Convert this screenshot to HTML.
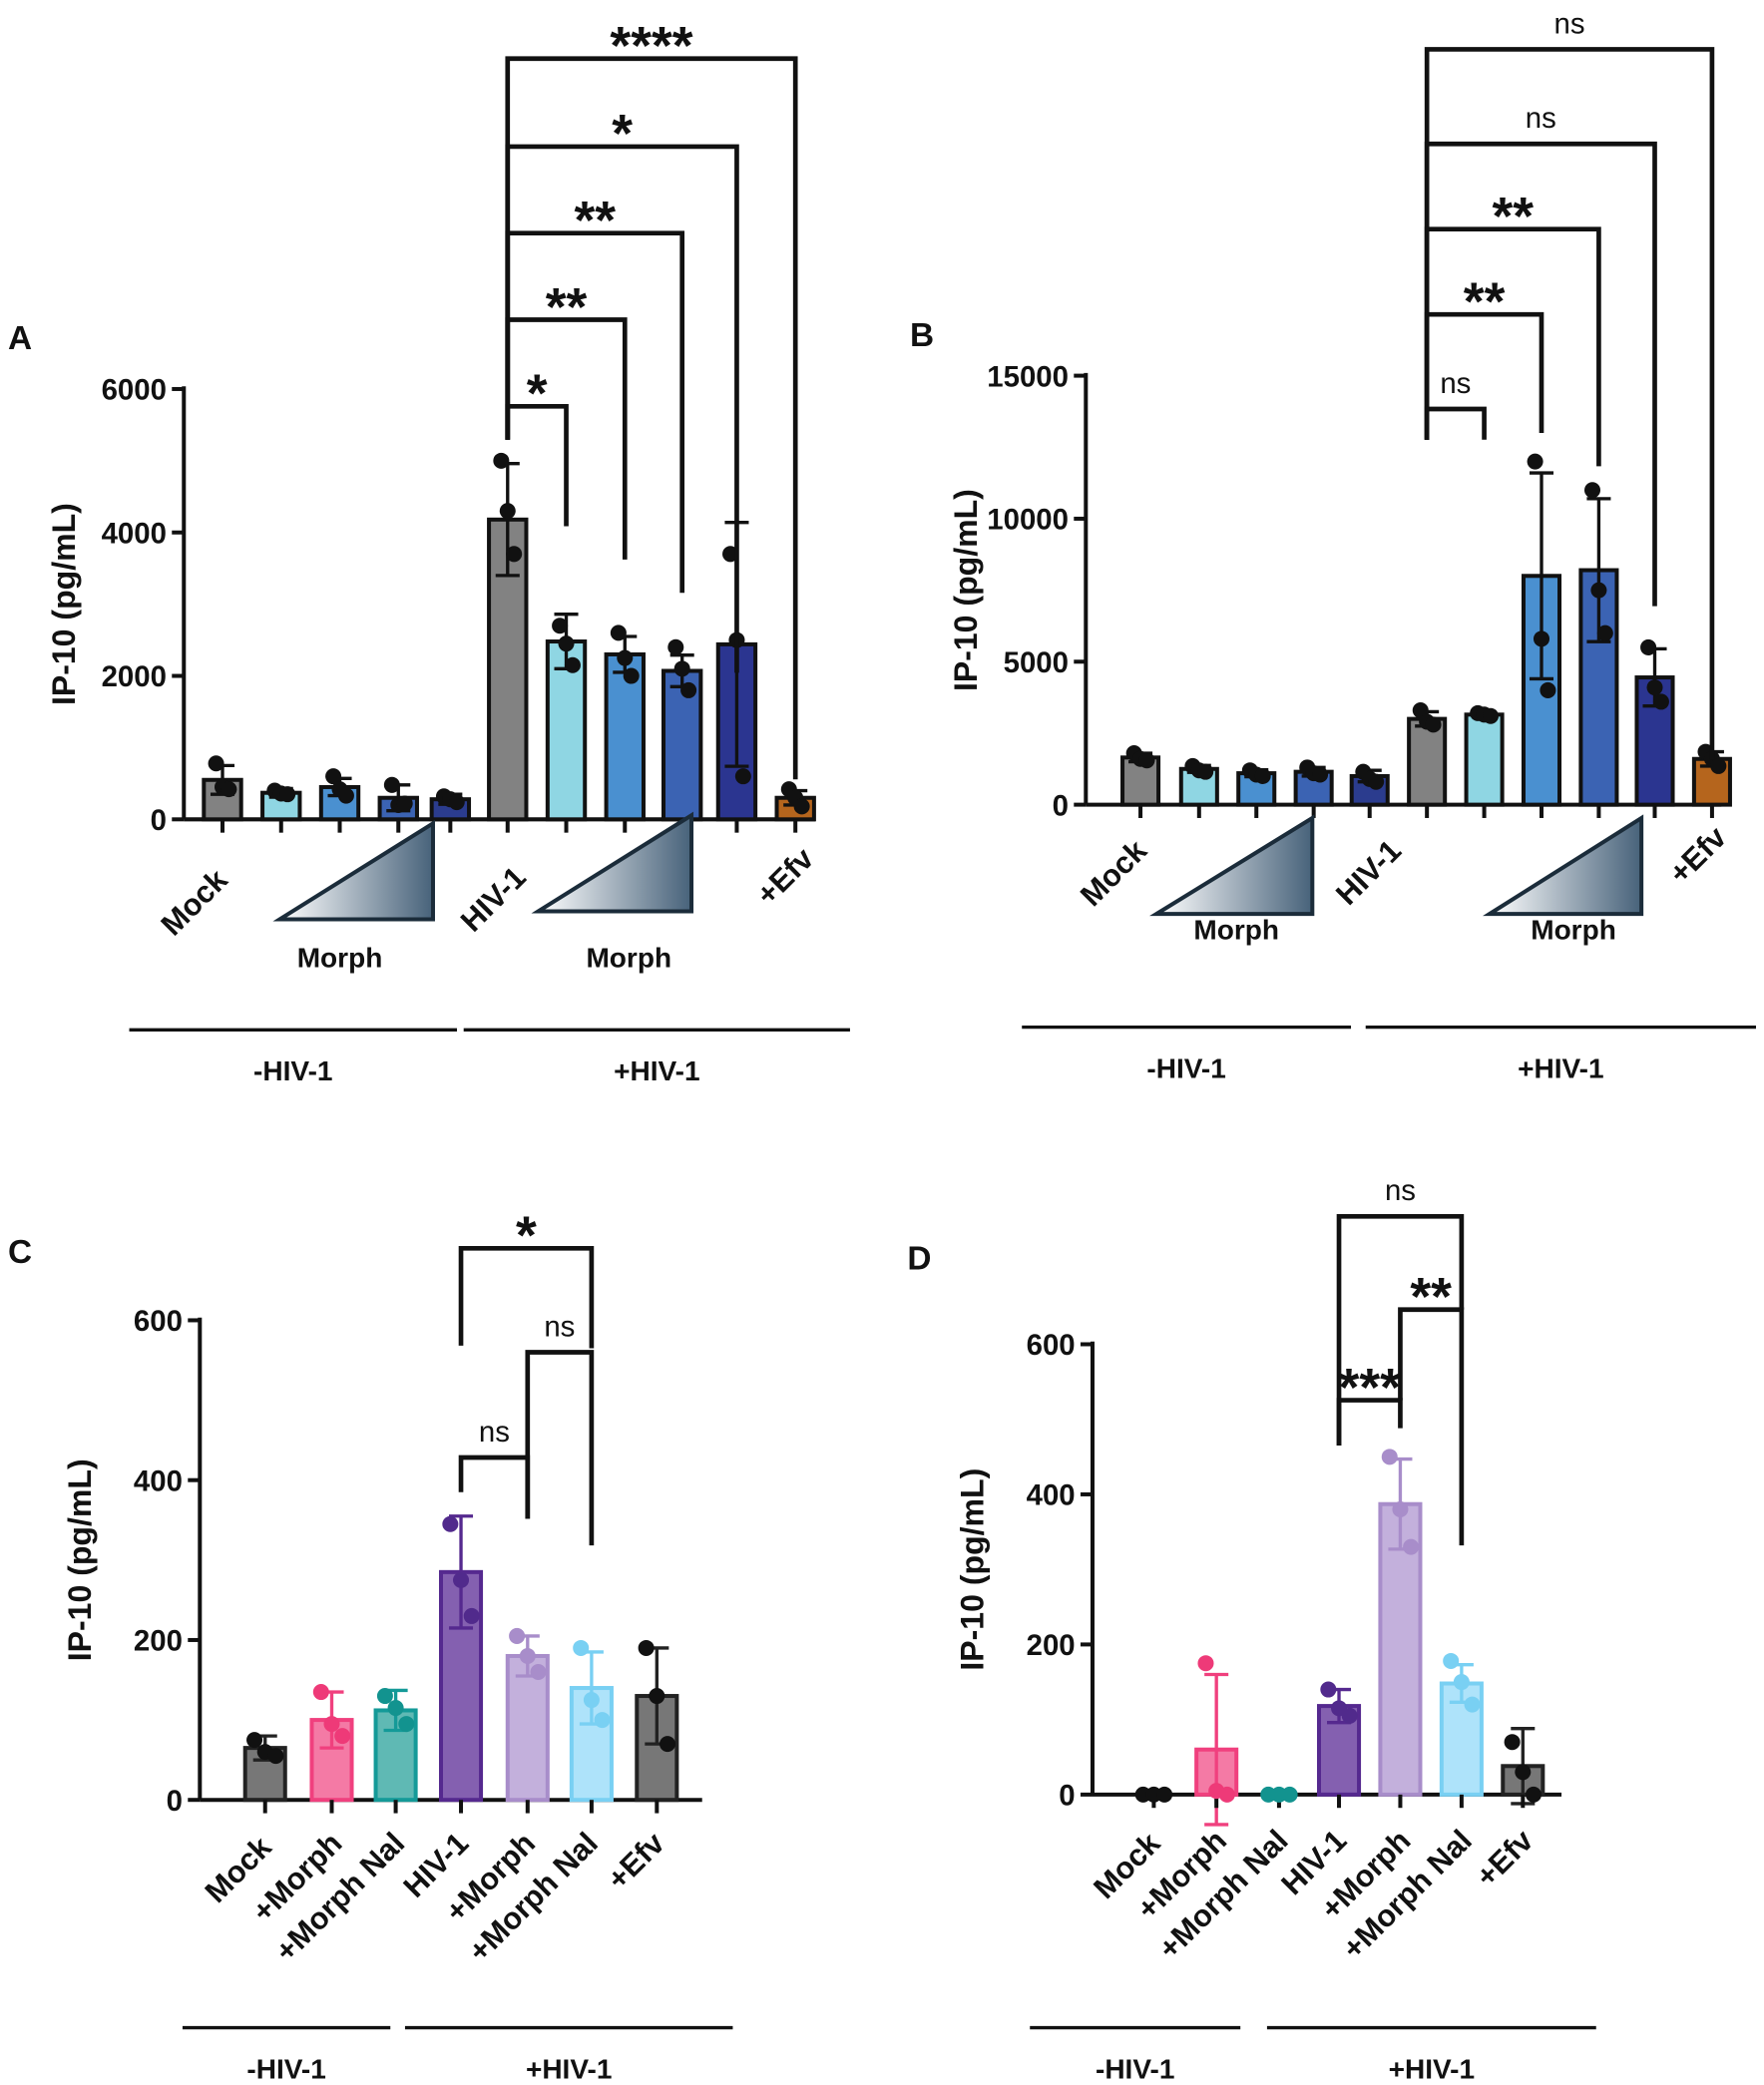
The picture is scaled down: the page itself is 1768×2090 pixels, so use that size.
<!DOCTYPE html>
<html><head><meta charset="utf-8"><style>
html,body{margin:0;padding:0;background:#fff}
svg{display:block}
text{font-family:"Liberation Sans",Arial,sans-serif}
</style></head><body>
<svg id="s" width="1768" height="2090" viewBox="0 0 1324 1565" preserveAspectRatio="none" xmlns="http://www.w3.org/2000/svg">
<defs><linearGradient id="wg" x1="0" y1="0" x2="1" y2="0"><stop offset="0" stop-color="#ffffff"/><stop offset="1" stop-color="#47627a"/></linearGradient></defs>
</svg>
<script>
// ---- Panel A data ----
const catsA=["Mock","m1","m2","m3","m4","HIV-1","h1","h2","h3","h4","+Efv"];
const valsA=[550,370,450,300,280,4180,2480,2300,2070,2440,300];
const errA=[200,60,120,180,70,780,380,250,220,1700,100];
const ptsA=[[780,450,420],[400,360,350],[600,420,330],[480,200,220],[320,280,240],[5000,4300,3700],[2700,2450,2150],[2600,2250,2000],[2400,2100,1800],[3700,2500,600],[420,300,180]];
const ticksA=[0,2000,4000,6000];
// ---- Panel B data ----
const catsB=["Mock","m1","m2","m3","m4","HIV-1","h1","h2","h3","h4","+Efv"];
const valsB=[1650,1250,1100,1150,1000,3000,3150,8000,8200,4450,1600];
const errB=[150,120,120,150,200,250,100,3600,2500,1000,250];
const ptsB=[[1800,1600,1550],[1350,1200,1150],[1200,1050,1000],[1300,1100,1050],[1150,900,800],[3300,2900,2800],[3200,3150,3100],[12000,5800,4000],[11000,7500,6000],[5500,4100,3600],[1850,1600,1350]];
const ticksB=[0,5000,10000,15000];
// ---- Panel C data ----
const catsC=["Mock","+Morph","+Morph Nal","HIV-1","+Morph","+Morph Nal","+Efv"];
const valsC=[65,100,112,285,180,140,130];
const errC=[15,35,25,70,25,45,60];
const ptsC=[[75,60,55],[135,95,80],[130,115,95],[345,275,230],[205,180,160],[190,125,100],[190,130,70]];
const ticksC=[0,200,400,600];
// ---- Panel D data ----
const catsD=["Mock","+Morph","+Morph Nal","HIV-1","+Morph","+Morph Nal","+Efv"];
const valsD=[0,60,0,118,387,148,38];
const errD=[0,100,0,22,60,25,50];
const ptsD=[[0,0,0],[175,5,0],[0,0,0],[140,115,105],[450,380,330],[178,150,120],[70,30,0]];
const ticksD=[0,200,400,600];

const svg=document.getElementById('s');
const NS="http://www.w3.org/2000/svg";
function mk(tag,at,parent){const e=document.createElementNS(NS,tag);for(const k in at)e.setAttribute(k,at[k]);(parent||svg).appendChild(e);return e;}
function tx(str,x,y,size,weight,anchor,rot,parent){const e=mk('text',{x:x,y:y,'font-size':size,'font-weight':weight||'bold','text-anchor':anchor||'middle',fill:'#111'},parent);if(rot!==undefined)e.setAttribute('transform','rotate('+rot+' '+x+' '+y+')');e.textContent=str;return e;}

function panel(o){
  const g=mk('g',{});
  
  
  const y=v=>o.y0-(v/o.ymax)*(o.y0-o.y1);
  const ax=mk('line',{x1:o.ax,y1:o.y1-2,x2:o.ax,y2:o.y0,stroke:'#111','stroke-width':3},g);
  
  const xa=mk('line',{x1:o.ax,y1:o.y0,x2:o.xend,y2:o.y0,stroke:'#111','stroke-width':3},g);
  
  o.ticks.forEach(t=>{
    const l=mk('line',{x1:o.ax-9,y1:y(t),x2:o.ax,y2:y(t),stroke:'#111','stroke-width':3},g);
    
    const tl=tx(String(t),o.ax-13,y(t)+8,22,'bold','end',undefined,g);
    
  });
  const yt=tx('IP-10  (pg/mL)',o.ax-82,(o.y0+o.y1)/2,24,'bold','middle',-90,g);
  
  const pl=tx(o.letter,o.lx,o.ly,25,'bold','start',undefined,g);
  
  o.vals.forEach((v,i)=>{
    const cx=o.xs[i],w=o.bw;
    const r=mk('rect',{x:cx-w/2,y:y(v),width:w,height:Math.max(0,o.y0-y(v)),fill:o.fill[i],stroke:o.stroke[i],'stroke-width':3},g);
    
    
    const e=o.err[i];
    if(e>0){
      const el=mk('path',{d:`M${cx},${y(v-e)}V${y(v+e)}M${cx-9},${y(v+e)}H${cx+9}M${cx-9},${y(v-e)}H${cx+9}`,stroke:o.estroke[i],'stroke-width':2.5,fill:'none'},g);
      
    }
    const tk=mk('line',{x1:cx,y1:o.y0,x2:cx,y2:o.y0+10,stroke:'#111','stroke-width':3},g);
    
    const offs=[-8,0,8];
    o.pts[i].forEach((p,j)=>{
      const c=mk('circle',{cx:cx+offs[j]*(o.spread?1:0.6),cy:y(p),r:6,fill:o.dot[i]},g);
      
    });
  });
  o.br.forEach(b=>{
    const xa_=o.xs[b[0]],xb=o.xs[b[1]];
    const p=mk('path',{d:`M${xa_},${b[3]}V${b[2]}H${xb}V${b[4]}`,stroke:'#111','stroke-width':3.5,fill:'none'},g);
    
    const ns=b[5]==='ns';
    const t=tx(b[5],(xa_+xb)/2,b[2]-(ns?12:-4),ns?22:40,ns?'normal':'bold','middle',undefined,g);
    
  });
  o.labels.forEach(l=>{
    const t=tx(l[0],l[1],l[2],23,'bold','end',-45,g);
    
  });
  (o.wedges||[]).forEach(w=>{
    const p=mk('polygon',{points:`${w[0]},${w[2]} ${w[1]},${w[2]-72} ${w[1]},${w[2]}`,fill:'url(#wg)',stroke:'#1b2c3a','stroke-width':3},g);
    
    const t=tx('Morph',w[3],w[4],21,'bold','middle',undefined,g);
    
  });
  o.groups.forEach(gr=>{
    const l=mk('line',{x1:gr[0],y1:o.gy,x2:gr[1],y2:o.gy,stroke:'#111','stroke-width':2.5},g);
    
    const t=tx(gr[2],(gr[0]+gr[1])/2,o.gy+38,21,'bold','middle',undefined,g);
    
  });
}
const blk=n=>Array(n).fill('#111');
panel({name:'panel-a',letter:'A',lx:6,ly:262,ax:138,y0:615,y1:292,ymax:6000,xend:612,bw:28,
 xs:[167,211,255,299,338,381,425,469,512,553,597],cats:catsA,vals:valsA,err:errA,pts:ptsA,ticks:ticksA,
 fill:['#828282','#8fd6e3','#4a90d0','#3b63b3','#2b3c8e','#828282','#8fd6e3','#4a90d0','#3b63b3','#2b3590','#b5651d'],
 stroke:blk(11),estroke:blk(11),dot:blk(11),
 br:[[5,6,305,330,395,'*'],[5,7,240,330,420,'**'],[5,8,175,330,445,'**'],[5,9,110,330,505,'*'],[5,10,44,330,585,'****']],
 labels:[['Mock',172,662],['HIV-1',396,660],['+Efv',612,646]],
 wedges:[[210,325,690,255,726],[404,519,684,472,726]],
 groups:[[97,343,'-HIV-1'],[348,638,'+HIV-1']],gy:773});
panel({name:'panel-b',letter:'B',lx:683,ly:260,ax:815,y0:604,y1:282,ymax:15000,xend:1292,bw:27,
 xs:[856,900,943,986,1028,1071,1114,1157,1200,1242,1285],cats:catsB,vals:valsB,err:errB,pts:ptsB,ticks:ticksB,
 fill:['#828282','#8fd6e3','#4a90d0','#3b63b3','#2b3c8e','#828282','#8fd6e3','#4a90d0','#3b63b3','#2b3590','#b5651d'],
 stroke:blk(11),estroke:blk(11),dot:blk(11),
 br:[[5,6,307,330,330,'ns'],[5,7,236,330,325,'**'],[5,8,172,330,350,'**'],[5,9,108,330,455,'ns'],[5,10,37,330,570,'ns']],
 labels:[['Mock',862,640],['HIV-1',1053,640],['+Efv',1297,630]],
 wedges:[[868,985,686,928,705],[1118,1232,686,1181,705]],
 groups:[[767,1014,'-HIV-1'],[1025,1318,'+HIV-1']],gy:771});
panel({name:'panel-c',letter:'C',lx:6,ly:948,ax:150,y0:1351,y1:991,ymax:600,xend:527,bw:30,
 xs:[199,249,297,346,396,444,493],cats:catsC,vals:valsC,err:errC,pts:ptsC,ticks:ticksC,
 fill:['#777','#f47aa5','#5fb9b4','#8460b0','#c3b0dc','#aee3fa','#777'],
 stroke:['#222','#f0407e','#149a98','#55298f','#a88dca','#79d0f3','#222'],
 estroke:['#222','#f0407e','#149a98','#55298f','#a88dca','#79d0f3','#222'],
 dot:['#111','#ee3a78','#12938f','#512a8c','#a88dca','#79d0f3','#111'],spread:true,
 br:[[3,4,1094,1120,1140,'ns'],[4,5,1015,1140,1160,'ns'],[3,5,937,1010,1012,'*']],
 labels:[['Mock',205,1388],['+Morph',258,1385],['+Morph Nal',305,1385],['HIV-1',353,1385],['+Morph',403,1385],['+Morph Nal',450,1385],['+Efv',500,1385]],
 groups:[[137,293,'-HIV-1'],[304,550,'+HIV-1']],gy:1522});
panel({name:'panel-d',letter:'D',lx:681,ly:953,ax:820,y0:1347,y1:1009,ymax:600,xend:1172,bw:30,
 xs:[866,913,960,1005,1051,1097,1143],cats:catsD,vals:valsD,err:errD,pts:ptsD,ticks:ticksD,
 fill:['#777','#f47aa5','#5fb9b4','#8460b0','#c3b0dc','#aee3fa','#777'],
 stroke:['#222','#f0407e','#149a98','#55298f','#a88dca','#79d0f3','#222'],
 estroke:['#222','#f0407e','#149a98','#55298f','#a88dca','#79d0f3','#222'],
 dot:['#111','#ee3a78','#12938f','#512a8c','#a88dca','#79d0f3','#111'],spread:true,
 br:[[3,4,1051,1085,1072,'***'],[4,5,983,1051,1160,'**'],[3,5,913,1085,983,'ns']],
 labels:[['Mock',872,1385],['+Morph',922,1383],['+Morph Nal',968,1383],['HIV-1',1012,1383],['+Morph',1060,1383],['+Morph Nal',1106,1383],['+Efv',1152,1383]],
 groups:[[773,931,'-HIV-1'],[951,1198,'+HIV-1']],gy:1522});
</script>
</body></html>
